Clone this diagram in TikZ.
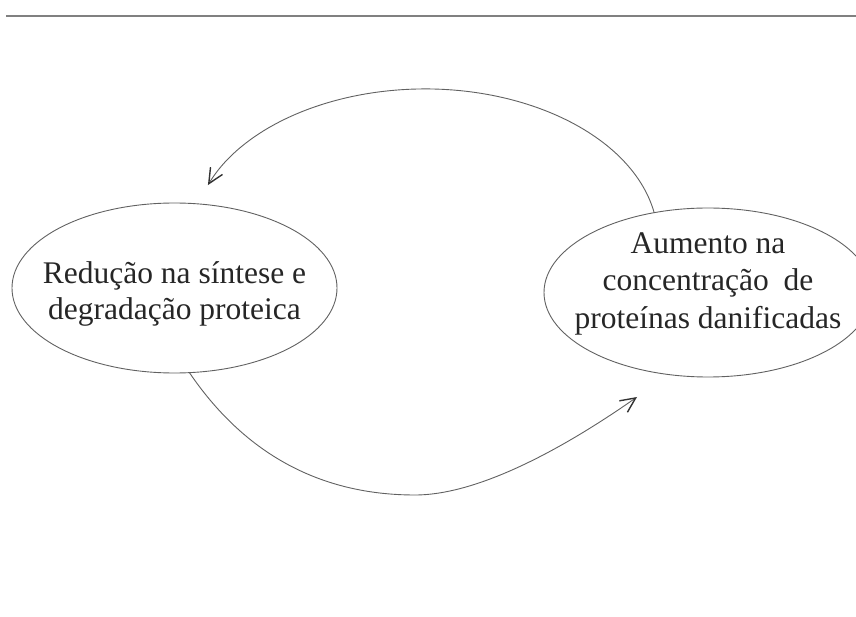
\documentclass[tikz,border=0pt]{standalone}
\usepackage{fontspec}
\setmainfont{Liberation Serif}
\usetikzlibrary{shapes.geometric,arrows.meta}
\newcommand{\elltext}[2]{\makebox[0pt][c]{\raisebox{#1}[0pt][0pt]{\begin{tabular}{@{}c@{}}#2\end{tabular}}}}
\begin{document}
\begin{tikzpicture}[x=1pt,y=1pt,
  ell/.style={draw=black!62, line width=0.9pt, ellipse, inner sep=0pt, outer sep=0pt,
    text=black!85},
  conn/.style={draw=black!62, line width=0.9pt,
    -{Straight Barb[length=15pt,width=14pt,line width=1.4pt,black!80]}},
  rule/.style={draw=black!50, line width=1.5pt}]
\useasboundingbox (0,0) rectangle (856,616);
\coordinate (ruleL) at (6,600);
\coordinate (ruleR) at (856,600);
\draw[rule] (ruleL) -- (ruleR);
\node[ell, minimum width=325pt, minimum height=170pt,
  font=\fontsize{31.5}{36}\selectfont] (L) at (174.5,328)
  {\elltext{-12.7pt}{Redução na síntese e\\degradação proteica}};
\node[ell, minimum width=328pt, minimum height=169pt,
  font=\fontsize{31.5}{37.5}\selectfont] (R) at (708,323.5)
  {\elltext{2.9pt}{Aumento na\\concentração\hspace{0.47em}de\\proteínas danificadas}};
\coordinate (lowBot) at (415,121);
\coordinate (lowTip) at (637,219);
\draw[conn] (R.124) arc[start angle=10.4, end angle=158.7, x radius=233, y radius=151];
\draw[conn] (L.280) .. controls (242.2,165.7) and (316.2,121) .. (lowBot)
  .. controls (480.8,121) and (568.5,171) .. (lowTip);
\end{tikzpicture}
\end{document}
